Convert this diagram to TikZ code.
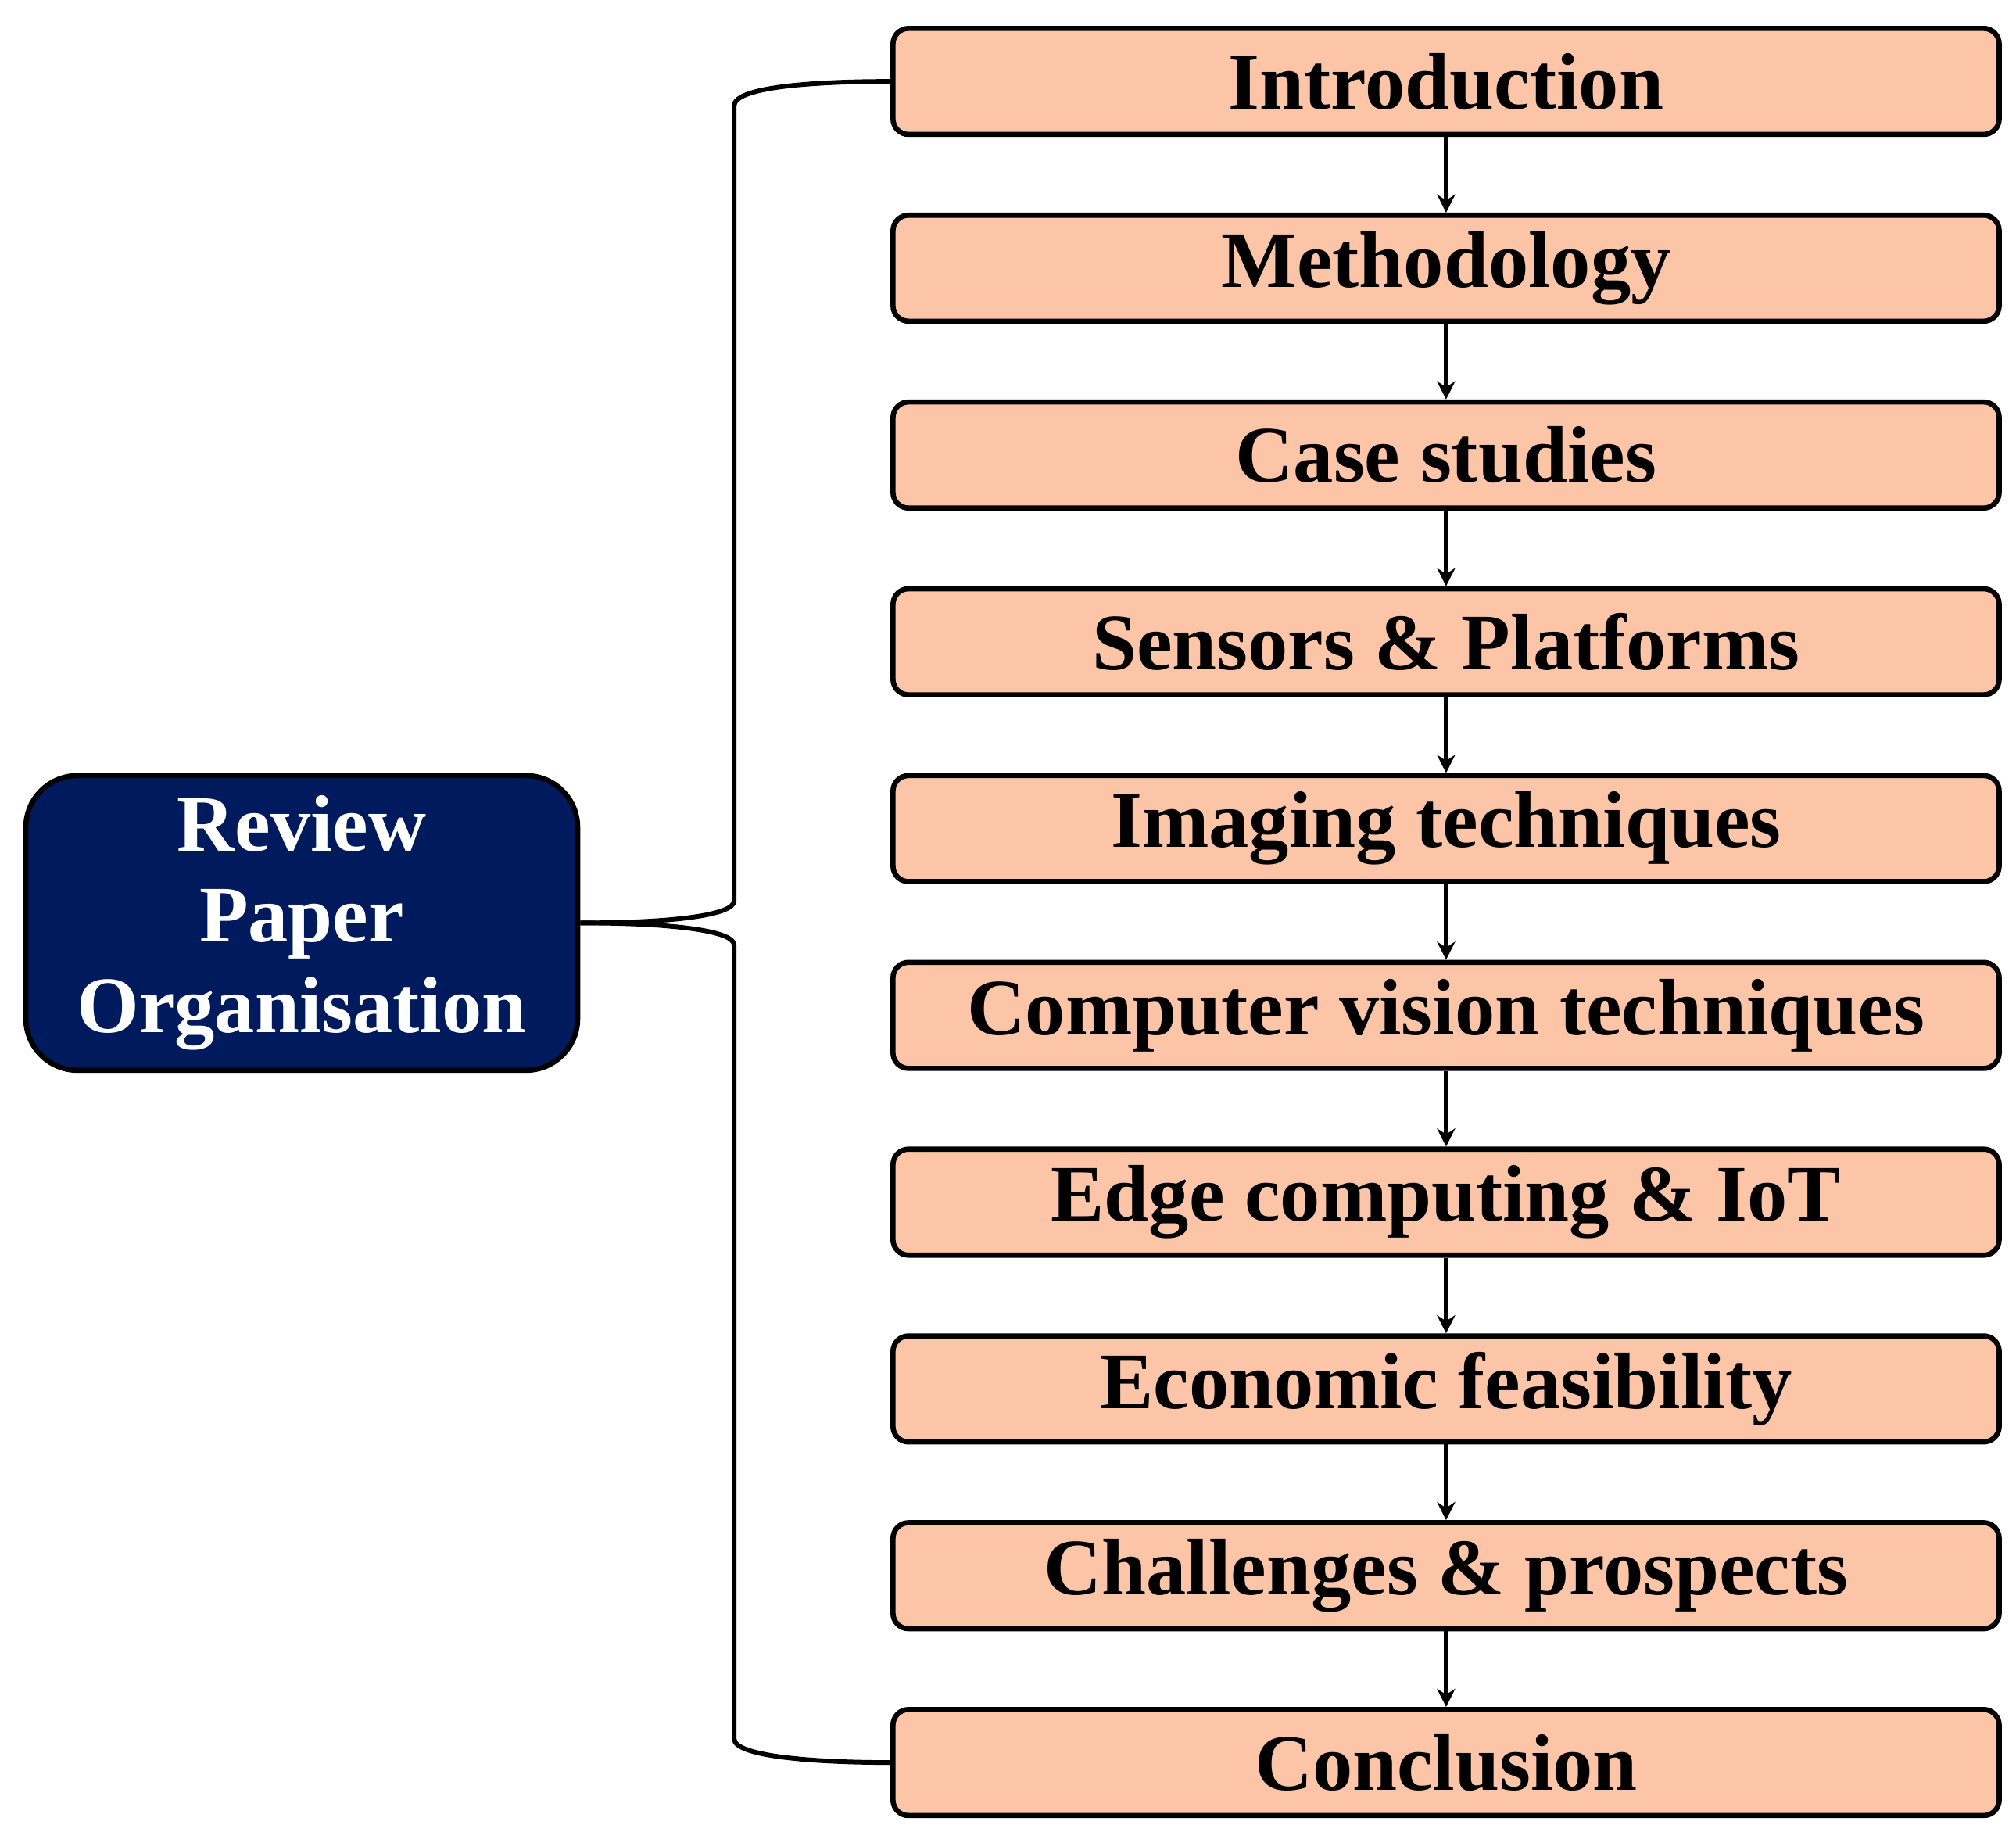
\documentclass[tikz,border=0pt]{standalone}
\usepackage{fontspec}
\setmainfont{Liberation Serif}
\usetikzlibrary{arrows.meta}
\definecolor{peach}{HTML}{FCC5A8}
\definecolor{navy}{HTML}{001A5E}
\begin{document}
\begin{tikzpicture}[x=0.5pt,y=-0.5pt,
 sec/.style={draw=black,line width=2pt,fill=peach,rounded corners=6pt,minimum width=428pt,minimum height=41pt,font=\fontsize{31}{34}\selectfont\bfseries,inner sep=0pt},
 arr/.style={line width=1.6pt,-{Stealth[length=7pt,width=7pt]}},
 br/.style={line width=1.8pt}]
\useasboundingbox (0,0) rectangle (1560,1417);
\node[draw=black,line width=2pt,fill=navy,rounded corners=20pt,minimum width=213.5pt,minimum height=114pt,text=white,align=center,font=\fontsize{31}{35}\selectfont\bfseries] (rp) at (233.5,714) {Review\\Paper\\Organisation};
\foreach \t [count=\i] in {Introduction,Methodology,Case studies,Sensors \& Platforms,Imaging techniques,Computer vision techniques,Edge computing \& IoT,Economic feasibility,Challenges \& prospects,Conclusion}{
 \node[sec] (b\i) at (1119,{63+(\i-1)*144.5}) {\t};
}
\foreach \i [evaluate=\i as \j using int(\i+1)] in {1,...,9}{
 \draw[arr] (b\i.south) -- (b\j.north);
}
\coordinate (u1) at (568,697);
\coordinate (u2) at (568,82);
\coordinate (d1) at (568,731);
\coordinate (d2) at (568,1345);
\draw[br] (rp.east) .. controls (520,714) and (568,708) .. (u1) -- (u2) .. controls (568,66) and (640,63) .. (b1.west);
\draw[br] (rp.east) .. controls (520,714) and (568,720) .. (d1) -- (d2) .. controls (568,1360) and (640,1363.5) .. (b10.west);
\end{tikzpicture}
\end{document}
